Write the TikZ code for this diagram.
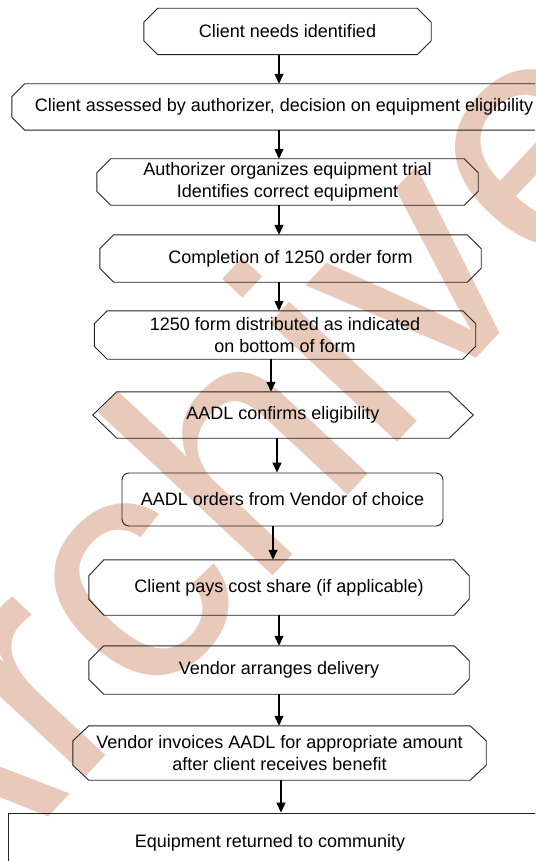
\documentclass[tikz,border=0pt]{standalone}
\usepackage{fontspec}
\setmainfont{Liberation Sans}
\usetikzlibrary{calc,arrows.meta}
\definecolor{stampred}{HTML}{E8C9BA}
\definecolor{edge}{HTML}{222222}
% box with cut corners round node #1, cut #2 wide and #3 high
\def\chambox(#1)(#2:#3){\draw[outline] ($(#1.north west)+(#2,0)$) -- ($(#1.north east)+(-#2,0)$) -- ($(#1.north east)+(0,#3)$) -- ($(#1.south east)+(0,-#3)$) -- ($(#1.south east)+(-#2,0)$) -- ($(#1.south west)+(#2,0)$) -- ($(#1.south west)+(0,-#3)$) -- ($(#1.north west)+(0,#3)$) -- cycle;}
% box with pointed ends
\def\pointbox(#1)(#2){\draw[outline] ($(#1.north west)+(#2,0)$) -- ($(#1.north east)+(-#2,0)$) -- (#1.east) -- ($(#1.south east)+(-#2,0)$) -- ($(#1.south west)+(#2,0)$) -- (#1.west) -- cycle;}
% arrow down from #1 to #2 along x = #3
\def\flow(#1)(#2)(#3){\coordinate (fx) at (#3,0); \draw[arrow] (#1.south -| fx) -- (#2.north -| fx);}

\begin{document}
\begin{tikzpicture}[x=1pt,y=-1pt,
	stage/.style={inner sep=0pt, align=center, font=\fontsize{18}{22}\selectfont},
	outline/.style={draw=edge, line width=0.9pt},
	arrow/.style={line width=1.3pt, -{Triangle[length=10pt,width=9pt]}}]
		%%%%% START %%%%%
		\useasboundingbox (0,0) rectangle (535,861);
		\clip (0,0) rectangle (535,861);
		
		% stamp across the page
		\node[inner sep=0pt, anchor=base west, rotate=47, text=stampred, font=\fontsize{330}{330}\selectfont] (stamp) at (-80,955) {Archived};
		
		\node[stage, minimum width=287, minimum height=46] (need) at (287.5,31.5) {Client needs identified};
		\node[stage, minimum width=544, minimum height=46] (assess) at (284,107) {Client assessed by authorizer, decision on equipment eligibility};
		\node[stage, minimum width=381, minimum height=46] (trial) at (287.5,182) {Authorizer organizes equipment trial\\Identifies correct equipment};
		\node[stage, minimum width=381, minimum height=47] (form) at (290.5,258.5) {Completion of 1250 order form};
		\node[stage, minimum width=381, minimum height=48] (copies) at (285,335) {1250 form distributed as indicated\\on bottom of form};
		\node[stage, minimum width=380, minimum height=46] (confirm) at (283,415) {AADL confirms eligibility};
		\node[stage, outline, rounded corners=7pt, minimum width=321, minimum height=53] (orders) at (282.5,499.5) {AADL orders from Vendor of choice};
		\node[stage, minimum width=380, minimum height=55] (pays) at (279,587.5) {Client pays cost share (if applicable)};
		\node[stage, minimum width=380, minimum height=48] (deliver) at (279,670) {Vendor arranges delivery};
		\node[stage, minimum width=413, minimum height=54] (invoice) at (279.5,753) {Vendor invoices AADL for appropriate amount\\after client receives benefit};
		\node[stage, outline, minimum width=563, minimum height=64,
			label={[stage, xshift=-20pt, yshift=2pt]center:Equipment returned to community}] (returned) at (290,845) {};
		
		\chambox(need)(14:14)
		\chambox(assess)(13:13)
		\chambox(trial)(14:14)
		\chambox(form)(14:14)
		\chambox(copies)(13:13)
		\pointbox(confirm)(24)
		\chambox(pays)(15:16)
		\chambox(deliver)(15:15)
		\chambox(invoice)(16:15)
		
		\flow(need)(assess)(279)
		\flow(assess)(trial)(279)
		\flow(trial)(form)(279)
		\flow(form)(copies)(279)
		\flow(copies)(confirm)(271)
		\flow(confirm)(orders)(277)
		\flow(orders)(pays)(273)
		\flow(pays)(deliver)(279)
		\flow(deliver)(invoice)(279)
		\flow(invoice)(returned)(281)
		%%%%% END %%%%%
\end{tikzpicture}
\end{document}
